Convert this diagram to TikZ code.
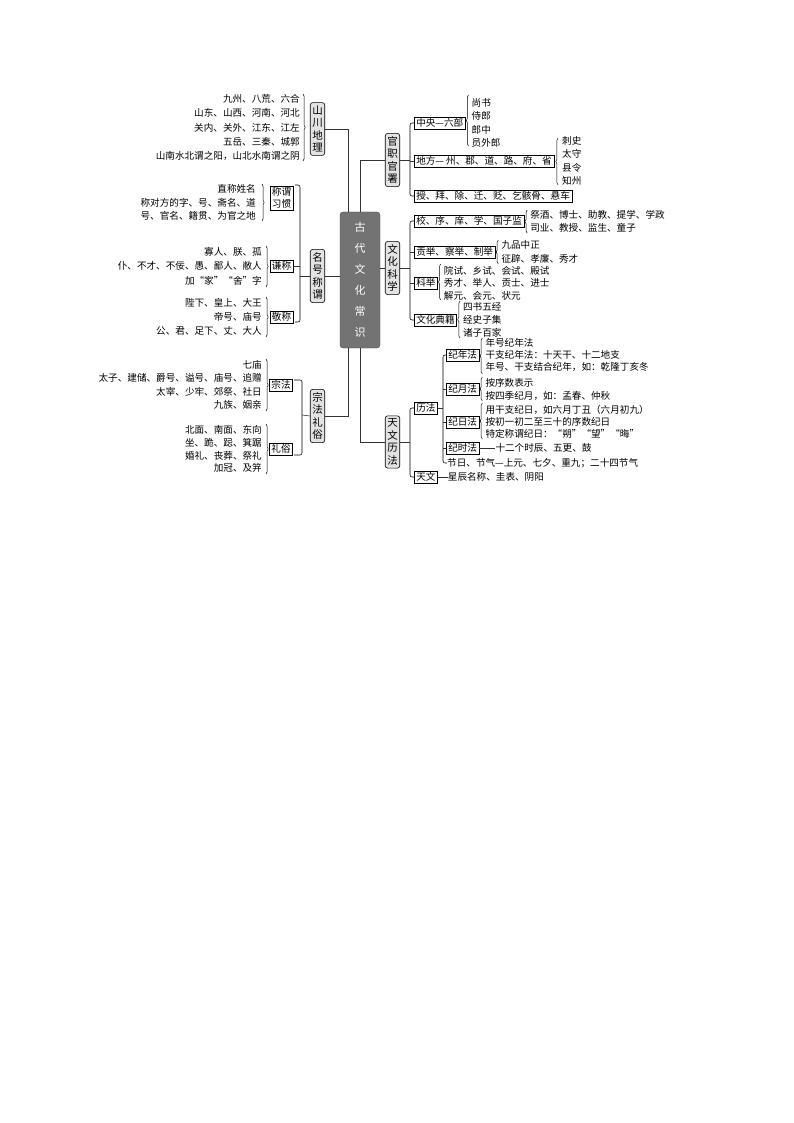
\documentclass[tikz,border=0pt]{standalone}
\usepackage{fontspec}
\newfontfamily\cjk{Noto Sans CJK SC}
\usetikzlibrary{decorations.pathreplacing}
\tikzset{
 lf/.style={font=\cjk\fontsize{9.6}{#1}\selectfont, inner sep=0pt},
 leafr/.style={lf=#1, anchor=east, align=right},
 leafl/.style={lf=#1, anchor=west, align=left},
 sub/.style={font=\cjk\fontsize{9.6}{12}\selectfont, draw, inner xsep=2pt, inner ysep=1.5pt, line width=0.5pt, align=center},
 subw/.style={sub, anchor=west},
 cat/.style={font=\cjk\fontsize{10.5}{12.5}\selectfont, draw, rounded corners=2.5pt, fill=gray!22, align=center, inner xsep=2pt, inner ysep=3pt, line width=0.6pt},
 ln/.style={line width=0.6pt, draw=black!80},
 brc/.style={decorate, decoration={brace, amplitude=2.2pt}, line width=0.5pt},
 bk/.style={line width=0.55pt, rounded corners=2pt},
}
\begin{document}
\begin{tikzpicture}[x=1pt,y=-1pt]
\useasboundingbox (0,0) rectangle (794,1123);
% center
\node[draw=black!70, fill=black!55, rounded corners=3pt, minimum width=40pt, minimum height=136pt, text=white, font=\cjk\fontsize{11}{21}\selectfont, align=center] (ctr) at (360,280) {古\\代\\文\\化\\常\\识};
% left categories
\node[cat] (sc) at (317.5,129) {山\\川\\地\\理};
\node[cat] (mh) at (317.5,276) {名\\号\\称\\谓};
\node[cat] (zf) at (317.5,416) {宗\\法\\礼\\俗};
% right categories
\node[cat] (gz) at (392.5,160) {官\\职\\官\\署};
\node[cat] (wh) at (392.5,268) {文\\化\\科\\学};
\node[cat] (tw) at (392.5,442) {天\\文\\历\\法};
\draw[ln] (sc.east) -| ([xshift=-12pt]ctr.north);
\draw[ln] (mh.east) -- (mh.east -| ctr.west);
\draw[ln] (zf.east) -| ([xshift=-12pt]ctr.south);
\draw[ln] (ctr.north) |- (gz.west);
\draw[ln] (wh.west -| ctr.east) -- (wh.west);
\draw[ln] (ctr.south) |- (tw.west);

% ---- 山川地理
\node[leafr=14.3] (sc1) at (300,127.5) {九州、八荒、六合\\山东、山西、河南、河北\\关内、关外、江东、江左\\五岳、三秦、城郭\\山南水北谓之阳，山北水南谓之阴};
\draw[brc] (303,94) -- (303,161);

% ---- 名号称谓
\node[sub] (cw) at (281.5,198) {称谓\\习惯};
\node[sub] (qc) at (281.5,266) {谦称};
\node[sub] (jc) at (281.5,317) {敬称};
\draw[bk] (295,185) -- (300,185) -- (300,322) -- (295,322);
\draw[ln] (qc.east) -- (300,266);
\draw[ln] (300,276) -- (mh.west);
\node[leafr=13.5] (cw1) at (256,202.5) {直称姓名\\称对方的字、号、斋名、道\\号、官名、籍贯、为官之地};
\draw[brc] (262,184) -- (262,221);
\node[leafr=14.5] (qc1) at (262,266) {寡人、朕、孤\\仆、不才、不佞、愚、鄙人、敝人\\加“家”“舍”字};
\draw[brc] (266,246) -- (266,287);
\node[leafr=14] (jc1) at (262,317) {陛下、皇上、大王\\帝号、庙号\\公、君、足下、丈、大人};
\draw[brc] (266,297) -- (266,337);

% ---- 宗法礼俗
\node[sub] (zfa) at (281,385) {宗法};
\node[sub] (ls) at (281,449) {礼俗};
\draw[bk] (294,380) -- (302,380) -- (302,455) -- (294,455);
\draw[ln] (302,415) -- (zf.west);
\node[leafr=13.4] (zf1) at (262,385) {七庙\\太子、建储、爵号、谥号、庙号、追赠\\太宰、少牢、郊祭、社日\\九族、姻亲};
\draw[brc] (266,359) -- (266,411);
\node[leafr=12.8] (ls1) at (262,449) {北面、南面、东向\\坐、跪、跽、箕踞\\婚礼、丧葬、祭礼\\加冠、及笄};
\draw[brc] (266,424) -- (266,474);

% ---- 官职官署
\node[subw] (zy) at (414,123) {中央—六部};
\node[subw] (df) at (414,161) {地方— 州、郡、道、路、府、省};
\node[subw] (sb) at (414,196) {授、拜、除、迁、贬、乞骸骨、悬车};
\draw[bk] (zy.west) -- (410,123) -- (410,196) -- (sb.west);
\draw[ln] (410,161) -- (df.west);
\draw[ln] (gz.east) -- (410,160);
\node[leafl=13.5] (zy1) at ([xshift=6pt]zy.east) {尚书\\侍郎\\郎中\\员外郎};
\draw[brc] ([xshift=3pt]zy.east |- 0,146) -- ([xshift=3pt]zy.east |- 0,95);
\node[leafl=13.3] (df1) at ([xshift=8pt]df.east) {刺史\\太守\\县令\\知州};
\draw[brc] ([xshift=4pt]df.east |- 0,185) -- ([xshift=4pt]df.east |- 0,138);

% ---- 文化科学
\node[subw] (xx) at (414,221) {校、序、庠、学、国子监};
\node[subw] (gj) at (414,252) {贡举、察举、制举};
\node[subw] (kj) at (414,283) {科举};
\node[subw] (dj) at (414,320) {文化典籍};
\draw[bk] (xx.west) -- (410,221) -- (410,320) -- (dj.west);
\draw[ln] (410,252) -- (gj.west);
\draw[ln] (410,283) -- (kj.west);
\draw[ln] (wh.east) -- (410,268);
\node[leafl=13] (xx1) at ([xshift=6pt]xx.east) {祭酒、博士、助教、提学、学政\\司业、教授、监生、童子};
\draw[brc] ([xshift=3pt]xx.east |- 0,233) -- ([xshift=3pt]xx.east |- 0,210);
\node[leafl=14] (gj1) at ([xshift=6pt]gj.east) {九品中正\\征辟、孝廉、秀才};
\draw[brc] ([xshift=3pt]gj.east |- 0,264) -- ([xshift=3pt]gj.east |- 0,240);
\node[leafl=12.5] (kj1) at ([xshift=6pt]kj.east) {院试、乡试、会试、殿试\\秀才、举人、贡士、进士\\解元、会元、状元};
\draw[brc] ([xshift=3pt]kj.east |- 0,300) -- ([xshift=3pt]kj.east |- 0,264);
\node[leafl=13] (dj1) at ([xshift=6pt]dj.east) {四书五经\\经史子集\\诸子百家};
\draw[brc] ([xshift=3pt]dj.east |- 0,338) -- ([xshift=3pt]dj.east |- 0,301);

% ---- 天文历法
\node[subw] (lf) at (414,408) {历法};
\node[subw] (tws) at (414,477) {天文};
\draw[bk] (lf.west) -- (410,408) -- (410,477) -- (tws.west);
\draw[ln] (tw.east) -- (410,442);
\node[subw] (jn) at (446,355) {纪年法};
\node[subw] (jy) at (446,389) {纪月法};
\node[subw] (jr) at (446,422) {纪日法};
\node[subw] (js) at (446,448) {纪时法};
\node[leafl=12] (jq) at (447,463) {节日、节气—上元、七夕、重九；二十四节气};
\draw[bk] (jn.west) -- (443,355) -- (443,463) -- (jq.west);
\draw[ln] (443,389) -- (jy.west);
\draw[ln] (443,422) -- (jr.west);
\draw[ln] (443,448) -- (js.west);
\draw[ln] (lf.east) -- (443,408);
\node[leafl=12] (jn1) at ([xshift=6pt]jn.east) {年号纪年法\\干支纪年法：十天干、十二地支\\年号、干支结合纪年，如：乾隆丁亥冬};
\draw[brc] ([xshift=3pt]jn.east |- 0,374) -- ([xshift=3pt]jn.east |- 0,338);
\node[leafl=13] (jy1) at ([xshift=6pt]jy.east) {按序数表示\\按四季纪月，如：孟春、仲秋};
\draw[brc] ([xshift=3pt]jy.east |- 0,401) -- ([xshift=3pt]jy.east |- 0,377);
\node[leafl=12] (jr1) at ([xshift=6pt]jr.east) {用干支纪日，如六月丁丑（六月初九）\\按初一初二至三十的序数纪日\\特定称谓纪日：“朔”“望”“晦”};
\draw[brc] ([xshift=3pt]jr.east |- 0,439) -- ([xshift=3pt]jr.east |- 0,403);
\node[leafl=12] (js1) at ([xshift=16pt]js.east) {十二个时辰、五更、鼓};
\draw[ln] (js.east) -- (js1.west);
\node[leafl=12] (tw1) at ([xshift=10pt]tws.east) {星辰名称、圭表、阴阳};
\draw[ln] (tws.east) -- (tw1.west);
\end{tikzpicture}
\end{document}
